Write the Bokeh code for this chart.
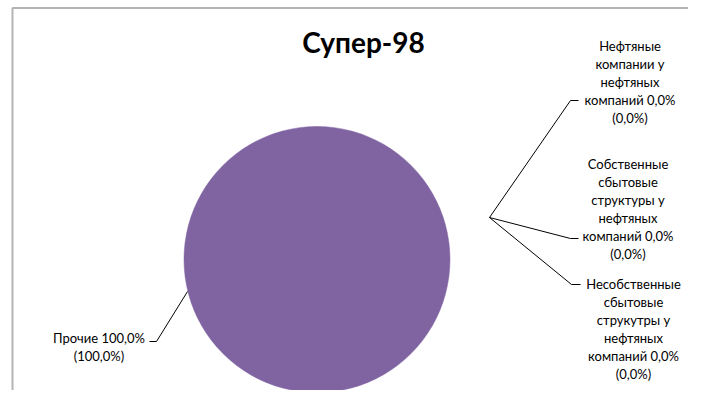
from bokeh.plotting import figure
from bokeh.models import ColumnDataSource
from bokeh.core.properties import value
from bokeh.embed import file_html
from bokeh.resources import INLINE
import math

# ---------------- data ----------------
title_text = "Супер-98"
categories = [
    "Нефтяные компании у нефтяных компаний",
    "Собственные сбытовые структуры у нефтяных компаний",
    "Несобственные сбытовые струкутры у нефтяных компаний",
    "Прочие",
]
wrapped_names = [
    ["Нефтяные", "компании у", "нефтяных", "компаний"],
    ["Собственные", "сбытовые", "структуры у", "нефтяных", "компаний"],
    ["Несобственные", "сбытовые", "струкутры у", "нефтяных", "компаний"],
    ["Прочие"],
]
values = [0.0, 0.0, 0.0, 100.0]      # %
shares = [0.0, 0.0, 0.0, 100.0]      # % in brackets
colors = ["#4F81BD", "#C0504D", "#9BBB59", "#8064A2"]

# ---------------- layout (pixel coords) ----------------
W, H = 688, 390
pie_cx, pie_cy, pie_r = 316.5, 259.0, 133.0
label_anchor = [(629.5, 45.0), (627.5, 163.0), (633.0, 283.0), (98.5, 337.0)]
line_step = 18.0
leader_paths = [
    [(489, 217), (570, 100), (578, 100)],
    [(489, 217), (570, 238), (578, 238)],
    [(489, 217), (571, 284), (580, 284)],
    [(187, 291), (156, 341), (149, 341)],
]
frame_path = [(12, 420), (12, 7.5), (720, 7.5)]
FONT = "Lato"


def X(px):
    return px


def Y(py):
    return H - py


def fmt(v):
    return f"{v:.1f}".replace(".", ",") + "%"


p = figure(width=W, height=H, x_range=(0, W), y_range=(0, H),
           output_backend="svg", toolbar_location=None,
           x_axis_location=None, y_axis_location=None, min_border=0)
p.grid.visible = False
p.outline_line_color = None
p.background_fill_color = "white"
p.border_fill_color = "white"

# chart area border (left & top visible)
p.line(x=[X(a) for a, b in frame_path], y=[Y(b) for a, b in frame_path],
       line_color="#b4b4b4", line_width=2)

# pie (zero-value slices are not drawn; a full slice is kept just short of 360°)
total = sum(values)
starts, ends, cols, cats = [], [], [], []
cum = 0.0
for v, c, n in zip(values, colors, categories):
    s = math.pi / 2 - 2 * math.pi * cum / total
    cum += v
    e = math.pi / 2 - 2 * math.pi * cum / total
    if v > 0:
        e = max(e, s - (2 * math.pi - 1e-4))
        starts.append(s)
        ends.append(e)
        cols.append(c)
        cats.append(n)
src = ColumnDataSource(dict(x=[X(pie_cx)] * len(cols), y=[Y(pie_cy)] * len(cols),
                            start=starts, end=ends, color=cols, cat=cats))
p.wedge(x="x", y="y", radius=pie_r, start_angle="start", end_angle="end",
        direction="clock", fill_color="color", line_color="color", line_width=0.5,
        source=src)

# leader lines
p.multi_line(xs=[[X(a) for a, b in path] for path in leader_paths],
             ys=[[Y(b) for a, b in path] for path in leader_paths],
             line_color="black", line_width=1)

# labels
tx, ty, tt = [], [], []
for i, name_lines in enumerate(wrapped_names):
    lines = name_lines[:-1] + [name_lines[-1] + " " + fmt(values[i]), "(" + fmt(shares[i]) + ")"]
    ax, ay = label_anchor[i]
    for k, s in enumerate(lines):
        tx.append(X(ax))
        ty.append(Y(ay + k * line_step))
        tt.append(s)
p.text(x=tx, y=ty, text=tt, text_align="center", text_baseline="middle",
       text_font=value(FONT), text_font_size="13px", text_color="black")

# title
p.text(x=[X(363)], y=[Y(41)], text=[title_text], text_align="center", text_baseline="middle",
       text_font=value(FONT), text_font_size="28px", text_font_style="bold", text_color="black")

open("out.html", "w").write(file_html(p, INLINE))
